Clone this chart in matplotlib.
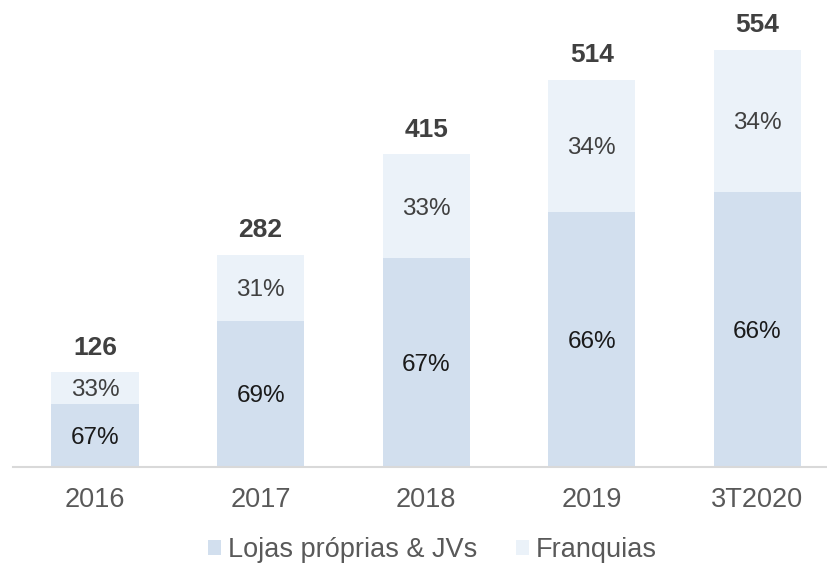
import matplotlib.pyplot as plt
import numpy as np

plt.rcParams['font.family'] = ['Liberation Sans', 'DejaVu Sans']

# data
periods = ["2016", "2017", "2018", "2019", "3T2020"]
totals = [126, 282, 415, 514, 554]
share_own = [67, 69, 67, 66, 66]      # Lojas próprias & JVs (%)
share_fran = [33, 31, 33, 34, 34]     # Franquias (%)

col_own = "#D2DFEE"
col_fran = "#EBF2F9"

own_h = np.array(totals) * np.array(share_own) / 100.0
fran_h = np.array(totals) - own_h

fig = plt.figure(figsize=(8.27, 5.76), dpi=100)
ax = fig.add_axes([0.0157, 0.189, 0.9843, 0.811])

x = np.arange(len(periods))
width = 0.526
b1 = ax.bar(x, own_h, width, color=col_own, label="Lojas próprias & JVs")
b2 = ax.bar(x, fran_h, width, bottom=own_h, color=col_fran, label="Franquias")

for i in range(len(periods)):
    ax.text(x[i], own_h[i] / 2, "%d%%" % share_own[i], ha="center", va="center_baseline",
            fontsize=17.5, color="#1a1a1a")
    ax.text(x[i], own_h[i] + fran_h[i] / 2, "%d%%" % share_fran[i], ha="center",
            va="center_baseline", fontsize=17.5, color="#404040")
    ax.text(x[i], totals[i] + 36, str(totals[i]), ha="center", va="center_baseline",
            fontsize=19, fontweight="bold", color="#404040")

ax.set_xlim(-0.495, 4.42)
ax.set_ylim(0, 620)
ax.set_xticks(x)
ax.set_xticklabels(periods, fontsize=19.5, color="#595959")
ax.tick_params(axis="x", length=0, pad=14)
ax.set_yticks([])
for s in ["top", "right", "left"]:
    ax.spines[s].set_visible(False)
ax.spines["bottom"].set_color("#D9D9D9")
ax.spines["bottom"].set_linewidth(1.5)

leg = fig.legend(handles=[b1, b2], loc="center", bbox_to_anchor=(0.523, 0.045), ncol=2,
                 frameon=False, fontsize=19.5, handlelength=0.47, handleheight=0.47,
                 handletextpad=0.25, columnspacing=1.45)
for t in leg.get_texts():
    t.set_color("#595959")

fig.savefig("out.png", dpi=100)
